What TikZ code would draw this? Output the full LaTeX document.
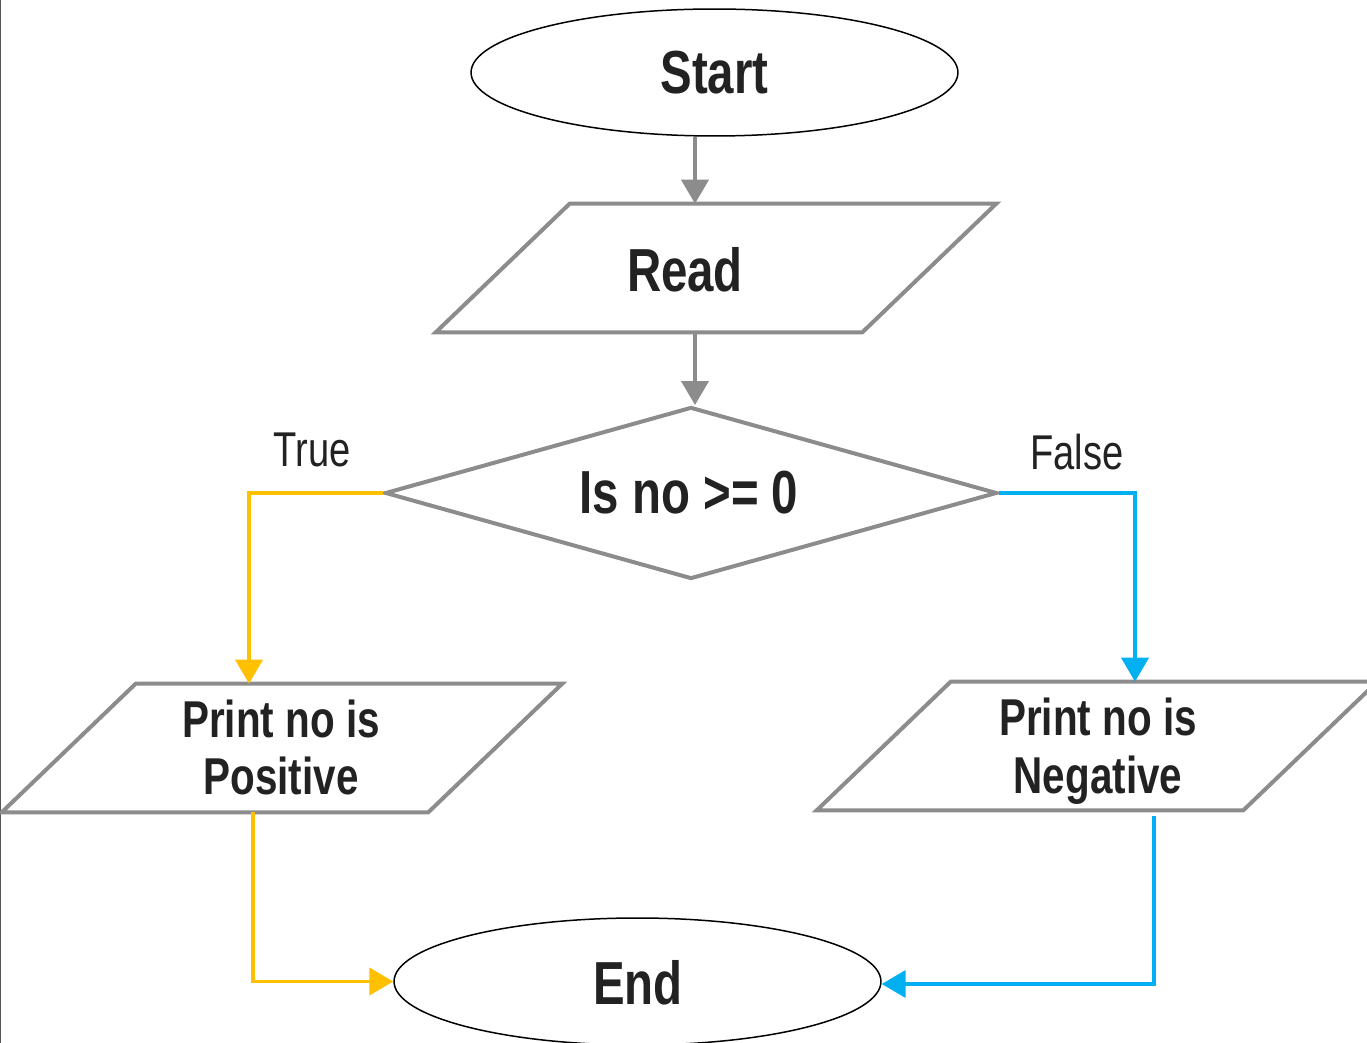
\documentclass[tikz,border=0pt]{standalone}
\usepackage{fontspec}
\setmainfont{Liberation Sans}[FakeStretch=0.78]
\usetikzlibrary{shapes.geometric,arrows.meta,calc}

\definecolor{linegray}{HTML}{8C8C8C}
\definecolor{txt}{HTML}{222222}
\definecolor{truecol}{HTML}{FFC000}
\definecolor{falsecol}{HTML}{00B0F0}
\definecolor{edgegray}{HTML}{555555}

\tikzset{
  terminal/.style={ellipse, draw=black, line width=0.85pt, inner sep=0pt,
    minimum width=9.74cm, minimum height=2.54cm},
  ioframe/.style={rectangle, draw=none, inner sep=0pt,
    minimum width=11.2cm, minimum height=2.56cm},
  ioline/.style={draw=linegray, line width=2.27pt, line join=miter},
  decision/.style={diamond, draw=linegray, line width=2.27pt, inner sep=0pt,
    minimum width=12.24cm, minimum height=3.44cm},
  bigtext/.style={text=txt, font=\fontsize{34.6pt}{41pt}\selectfont\bfseries, inner sep=0pt},
  iotext/.style={text=txt, font=\fontsize{29.5pt}{32.9pt}\selectfont\bfseries, inner sep=0pt, align=center},
  branchtext/.style={text=txt, font=\fontsize{27.8pt}{33pt}\selectfont, inner sep=0pt},
  flow/.style={line width=2.27pt, -{Triangle[length=0.48cm,width=0.54cm]}},
}

% parallelogram drawn inside a named frame node, slanted by #2 (in px units)
\newcommand{\ioshape}[2]{%
  \draw[ioline] (#1.south west) -- ($(#1.north west)+(#2,0)$) -- (#1.north east)
    -- ($(#1.south east)-(#2,0)$) -- cycle;}

\begin{document}
\begin{tikzpicture}[x=0.02cm, y=-0.02cm]
  \useasboundingbox (0,0) rectangle (1367,1043);
  \clip (0,0) rectangle (1367,1043);
  \fill[white] (0,0) rectangle (1367,1043);
  \draw[edgegray, line width=0.9pt] (0.5,0) -- (0.5,1043);

  % shapes
  \node[terminal] (start) at (714.5,72.5) {};
  \node[ioframe] (read) at (716,268) {};
  \ioshape{read}{134}
  \node[decision] (dec) at (691,493) {};
  \node[ioframe] (pos) at (282,748) {};
  \ioshape{pos}{134}
  \node[ioframe] (neg) at (1097,746) {};
  \ioshape{neg}{134}
  \node[terminal] (end) at (637.5,981.5) {};

  % texts
  \node[bigtext, anchor=base] (tstart) at (714.5,94) {Start};
  \node[bigtext, anchor=base] (tread) at (685,292) {Read};
  \node[bigtext, anchor=base] (tdec) at (689,514) {Is no >= 0};
  \node[iotext] (tpos) at (281,747.5) {Print no is\\Positive};
  \node[iotext] (tneg) at (1098,751.5) {Print no is\\Negative};
  \node[bigtext, anchor=base] (tend) at (638,1004) {End};
  \node[branchtext] (ttrue) at (312,450) {True};
  \node[branchtext] (tfalse) at (1077,452) {False};

  % connector columns
  \coordinate (cmain) at (695,0);
  \coordinate (cyes) at (249,0);
  \coordinate (cyesb) at (253,0);
  \coordinate (cno) at (1135,0);
  \coordinate (cnob) at (1154,0);
  \coordinate (cendin) at (0,984);

  % connectors
  \draw[flow, linegray] (start.south -| cmain) -- (read.north -| cmain);
  \draw[flow, linegray] (read.south -| cmain) -- (dec.north -| cmain);
  \draw[flow, truecol] (dec.west) -| (pos.north -| cyes);
  \draw[flow, falsecol] (dec.east) -| (neg.north -| cno);
  \draw[flow, truecol] (pos.south -| cyesb) |- (end.west);
  \draw[flow, falsecol, shorten <=0.12cm] (neg.south -| cnob) |- (end.east |- cendin);
\end{tikzpicture}
\end{document}
